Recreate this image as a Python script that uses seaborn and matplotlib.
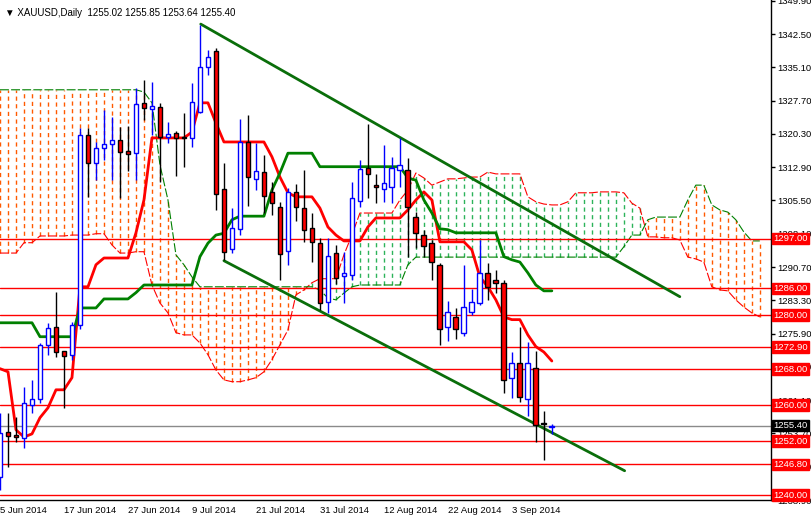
import matplotlib
matplotlib.use("Agg")
import matplotlib.pyplot as plt
import seaborn as sns
import numpy as np
import pandas as pd

# bar index -1 is 4 Jun 2014, last bar (68) is the current one
opens = [1244.0, 1254.0, 1253.3, 1252.7, 1260.0, 1261.4, 1273.4, 1277.4, 1272.0, 1271.2,
         1277.8, 1320.0, 1313.8, 1317.2, 1318.0, 1319.0, 1316.5, 1316.0, 1327.2, 1325.8,
         1326.3, 1319.6, 1320.5, 1319.6, 1319.3, 1325.2, 1335.2, 1338.7, 1308.0, 1294.7,
         1299.2, 1318.5, 1310.3, 1311.8, 1307.4, 1304.0, 1294.3, 1307.4, 1303.8, 1299.4,
         1296.0, 1283.0, 1293.8, 1288.6, 1289.0, 1305.4, 1312.7, 1309.0, 1308.0, 1308.5,
         1312.3, 1312.3, 1301.8, 1297.8, 1296.0, 1291.2, 1277.4, 1279.6, 1276.0, 1280.7,
         1282.7, 1289.4, 1287.8, 1287.2, 1266.0, 1269.4, 1261.4, 1268.3, 1256.0, 1255.02]
highs = [1258.3, 1258.3, 1257.4, 1264.0, 1265.6, 1273.8, 1278.3, 1285.2, 1272.0, 1278.5,
         1321.6, 1321.6, 1318.5, 1325.6, 1324.0, 1321.8, 1322.0, 1330.5, 1332.3, 1331.8,
         1327.2, 1323.0, 1321.0, 1325.0, 1331.6, 1344.5, 1339.0, 1339.4, 1313.8, 1303.8,
         1323.6, 1324.5, 1318.3, 1315.6, 1309.7, 1305.2, 1308.3, 1309.2, 1312.3, 1302.7,
         1297.2, 1297.2, 1295.5, 1294.0, 1309.6, 1314.5, 1322.5, 1311.4, 1317.8, 1315.2,
         1319.4, 1315.0, 1303.0, 1299.0, 1296.7, 1291.5, 1283.2, 1281.5, 1291.2, 1285.7,
         1296.7, 1291.6, 1290.0, 1287.8, 1271.8, 1277.4, 1274.0, 1272.0, 1258.7, 1255.85]
lows = [1241.2, 1246.3, 1251.8, 1250.5, 1258.3, 1260.5, 1271.2, 1270.7, 1259.4, 1270.0,
        1277.0, 1306.3, 1310.0, 1314.5, 1310.0, 1306.0, 1312.0, 1310.0, 1323.4, 1320.0,
        1309.6, 1318.3, 1311.0, 1313.0, 1317.4, 1325.0, 1333.4, 1303.4, 1292.3, 1293.8,
        1297.8, 1304.3, 1307.8, 1302.7, 1302.3, 1287.8, 1291.2, 1301.0, 1296.3, 1291.8,
        1281.2, 1280.5, 1287.0, 1282.7, 1287.8, 1304.0, 1306.0, 1305.0, 1305.2, 1305.0,
        1308.5, 1293.0, 1295.0, 1293.0, 1287.8, 1273.4, 1274.3, 1274.8, 1275.4, 1280.0,
        1282.3, 1283.4, 1285.0, 1262.7, 1261.6, 1260.7, 1257.6, 1251.8, 1247.8, 1253.64]
closes = [1253.8, 1253.2, 1252.8, 1260.5, 1261.4, 1273.4, 1277.2, 1271.8, 1270.9, 1277.8,
          1320.0, 1313.8, 1317.2, 1318.0, 1319.0, 1316.3, 1315.8, 1327.0, 1326.1, 1326.5,
          1319.6, 1320.3, 1319.4, 1319.3, 1327.4, 1335.2, 1337.4, 1307.0, 1294.0, 1299.4,
          1318.5, 1310.7, 1312.0, 1306.5, 1305.0, 1293.6, 1307.4, 1304.0, 1298.9, 1296.3,
          1282.7, 1293.2, 1288.3, 1289.3, 1306.0, 1312.5, 1311.4, 1308.5, 1309.4, 1312.7,
          1313.4, 1304.0, 1298.3, 1295.4, 1291.8, 1276.9, 1280.7, 1276.9, 1281.8, 1283.0,
          1289.4, 1286.3, 1287.2, 1265.6, 1269.4, 1261.8, 1269.4, 1255.6, 1255.7, 1255.40]

tenkan = ([1268.1, 1267.4, 1254.5, 1252.9, 1253.6, 1257.2, 1259.4, 1263.4, 1263.4, 1266.1,
           1286.3, 1286.3, 1291.2] + [1292.7] * 4 + [1298.3, 1305.6] + [1319.4] * 5 +
          [1320.7, 1327.2, 1327.2, 1322.7] + [1318.5] * 6 + [1315.2, 1310.7, 1307.2] +
          [1306.3] * 3 + [1303.8, 1299.6, 1297.8] + [1296.5] * 3 + [1299.6] + [1301.6] * 4 +
          [1303.4, 1305.6, 1307.4, 1305.6] + [1296.3] * 4 +
          [1294.5, 1288.5, 1286.3, 1283.4, 1279.6, 1279.0, 1279.0, 1275.6, 1273.0, 1271.8, 1269.8])
kijun = ([1278.3] * 5 + [1275.2] * 5 + [1281.6] * 3 + [1283.6] * 4 + [1285.0] + [1286.7] * 7 +
         [1293.0, 1296.0, 1297.8, 1298.2, 1301.2] + [1302.0] * 4 + [1307.8, 1311.6] +
         [1316.0] * 4 + [1313.0] * 11 + [1310.5, 1310.0, 1305.6, 1302.7, 1299.2, 1299.0] +
         [1298.3] * 6 + [1293.0, 1292.3, 1291.8, 1289.4, 1286.7, 1285.4, 1285.4])

# cloud runs 26 bars past the last candle
span_a = ([1293.8] * 3 + [1296.1] * 2 + [1297.6] * 4 + [1297.8] * 3 + [1298.1] * 2 +
          [1295.6, 1293.8, 1293.8, 1294.1, 1294.1, 1286.7, 1282.7, 1280.5, 1276.1, 1275.6,
           1275.6, 1273.8, 1271.2, 1267.8, 1265.6, 1265.2, 1265.2, 1265.6, 1266.1, 1267.4,
           1270.1, 1273.4, 1276.7, 1284.5, 1285.6, 1287.2] + [1288.1] * 3 +
          [1293.4, 1297.8] + [1302.7] * 5 +
          [1305.6, 1307.8, 1311.6, 1310.5, 1308.9, 1309.6, 1310.3, 1310.3, 1310.5, 1310.7,
           1310.7, 1311.8] + [1311.4] * 4 +
          [1306.3, 1305.2, 1304.7, 1304.5, 1304.5, 1305.2] + [1307.2] * 3 + [1307.4] * 3 +
          [1307.2, 1304.9, 1303.8, 1297.4, 1297.4, 1297.2, 1297.2, 1296.7, 1292.9, 1292.5,
           1291.8, 1286.3, 1285.6, 1285.4, 1283.4, 1281.8, 1280.5, 1279.6])
span_b = ([1330.1] * 18 + [1329.6, 1327.2, 1313.4, 1305.6, 1293.4, 1291.2, 1288.5] +
          [1286.3] * 15 + [1285.6, 1283.8, 1283.4, 1284.9, 1286.3] + [1286.7] * 6 +
          [1291.2] + [1292.9] * 26 + [1295.2, 1297.8, 1297.8, 1301.2] + [1301.8] * 4 +
          [1305.6, 1308.9, 1308.9, 1304.5, 1303.4, 1302.9, 1301.2, 1298.5, 1296.5, 1296.5])

levels = [1297.0, 1286.0, 1280.0, 1272.9, 1268.0, 1260.0, 1252.0, 1246.8, 1240.0]
bid = 1255.40
axis_ticks = [1349.9, 1342.5, 1335.1, 1327.7, 1320.3, 1312.9, 1305.5, 1298.1, 1290.7,
              1283.3, 1275.9, 1268.5, 1261.1, 1253.7, 1246.3, 1238.9]
upper_trend = ([24.1, 84.0], [1344.7, 1284.1])
lower_trend = ([27.0, 77.1], [1292.1, 1245.4])
date_pos = [-1, 7, 15, 23, 31, 39, 47, 55, 63]
date_labels = ['5 Jun 2014', '17 Jun 2014', '27 Jun 2014', '9 Jul 2014', '21 Jul 2014',
               '31 Jul 2014', '12 Aug 2014', '22 Aug 2014', '3 Sep 2014']

bars = pd.DataFrame({'i': np.arange(-1, len(opens) - 1), 'open': opens, 'high': highs,
                     'low': lows, 'close': closes, 'tenkan': tenkan, 'kijun': kijun})
cloud = pd.DataFrame({'i': np.arange(-1, len(span_a) - 1), 'a': span_a, 'b': span_b})

sns.set_style("white")
plt.rcParams['font.family'] = ['Liberation Sans', 'DejaVu Sans']

fig = plt.figure(figsize=(8.12, 5.16), dpi=100)
ax = fig.add_axes([0, 16 / 516, 771 / 812, 500 / 516])

# cloud hatching
up = cloud['a'] >= cloud['b']
ax.vlines(cloud['i'][up], cloud['b'][up], cloud['a'][up], colors='#2DB35A', lw=1,
          linestyles=(0, (3, 2.5)), zorder=1)
ax.vlines(cloud['i'][~up], cloud['a'][~up], cloud['b'][~up], colors='#FF5A00', lw=1,
          linestyles=(0, (3, 2.5)), zorder=1)
ax.plot(cloud['i'], cloud['a'], color='red', lw=0.8, ls=(0, (8, 2)), zorder=1.5)
ax.plot(cloud['i'], cloud['b'], color='green', lw=0.8, ls=(0, (8, 2)), zorder=1.5)

for lv in levels:
    ax.axhline(lv, color='red', lw=1, zorder=2)
ax.axhline(bid, color='#8a8a8a', lw=1, zorder=2)

sns.lineplot(data=bars, x='i', y='tenkan', color='red', lw=2, ax=ax, zorder=3)
sns.lineplot(data=bars, x='i', y='kijun', color='green', lw=2, ax=ax, zorder=3)
ax.plot(*upper_trend, color='#0a6e0a', lw=2, zorder=3)
ax.plot(*lower_trend, color='#0a6e0a', lw=2, zorder=3)

# candles
bull = bars['close'] >= bars['open']
ax.vlines(bars['i'][bull], bars['low'][bull], bars['high'][bull], colors='blue', lw=1, zorder=4)
ax.vlines(bars['i'][~bull], bars['low'][~bull], bars['high'][~bull], colors='black', lw=1, zorder=4)
body_lo = np.minimum(bars['open'], bars['close'])
body_h = np.maximum(np.abs(bars['close'] - bars['open']), 0.35)
ax.bar(bars['i'][bull], body_h[bull], bottom=body_lo[bull], width=0.6,
       color='white', edgecolor='blue', lw=1, zorder=5)
ax.bar(bars['i'][~bull], body_h[~bull], bottom=body_lo[~bull], width=0.6,
       color='red', edgecolor='black', lw=1, zorder=5)

ax.set_xlim(-1.0, 95.4)
ax.set_ylim(1238.95, 1350.06)
for s in ['top', 'left']:
    ax.spines[s].set_visible(False)
for s in ['right', 'bottom']:
    ax.spines[s].set_color('black')
    ax.spines[s].set_linewidth(1)
ax.set_xlabel('')
ax.set_ylabel('')
ax.yaxis.tick_right()
ax.set_yticks(axis_ticks)
ax.set_yticklabels([f'{t:.2f}' for t in axis_ticks], fontsize=6.8)
ax.tick_params(axis='y', direction='out', length=3, width=1, pad=1.5, colors='black')
ax.set_xticks(date_pos)
ax.set_xticklabels(date_labels, fontsize=6.8, ha='left')
ax.tick_params(axis='x', direction='out', length=3, width=1, pad=1, colors='black')

for lv in levels:
    ax.annotate(f'{lv:.2f}', xy=(1.003, lv), xycoords=('axes fraction', 'data'),
                va='center', ha='left', fontsize=6.8, color='white', annotation_clip=False,
                bbox=dict(boxstyle='square,pad=0.12', fc='red', ec='red'), zorder=10)
ax.annotate(f'{bid:.2f}', xy=(1.003, bid), xycoords=('axes fraction', 'data'),
            va='center', ha='left', fontsize=6.8, color='white', annotation_clip=False,
            bbox=dict(boxstyle='square,pad=0.12', fc='black', ec='black'), zorder=10)

fig.text(0.006, 0.985, '▼ XAUUSD,Daily  1255.02 1255.85 1253.64 1255.40',
         fontsize=7, va='top', ha='left', color='black')

fig.savefig('out.png', dpi=100)
